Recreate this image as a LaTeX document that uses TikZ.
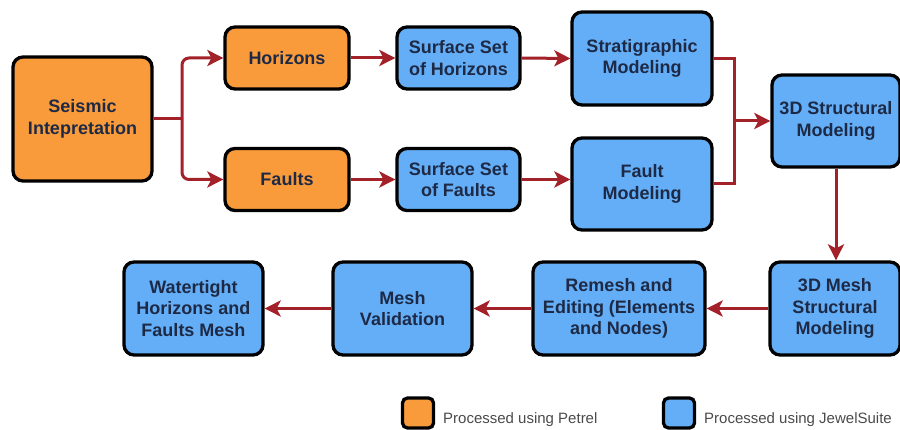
\documentclass[tikz,border=0pt]{standalone}
\usepackage{fontspec}
\setmainfont{Liberation Sans}
\usetikzlibrary{arrows.meta}
\definecolor{orfill}{HTML}{F99B3A}
\definecolor{blfill}{HTML}{63AEF7}
\definecolor{arr}{HTML}{A3222A}
\definecolor{txt}{HTML}{1E2A45}
\definecolor{legtxt}{HTML}{4A4A4A}
\tikzset{
 box/.style={draw=black, line width=3.3pt, rounded corners=10pt, font=\fontsize{18}{21.5}\selectfont\bfseries, text=txt, align=center, inner sep=0pt},
 obox/.style={box, fill=orfill},
 bbox/.style={box, fill=blfill},
 flow/.style={draw=arr, line width=3pt, -{Stealth[length=16pt,width=16pt,inset=4pt]}},
 link/.style={draw=arr, line width=3pt},
 legbox/.style={draw=black, line width=3.3pt, rounded corners=5pt, minimum width=31pt, minimum height=30pt, inner sep=0pt},
 legtext/.style={font=\fontsize{15}{17}\selectfont, text=legtxt, anchor=west, inner sep=0pt},
}
\begin{document}
\begin{tikzpicture}[x=1pt,y=-1pt]
\useasboundingbox (0,0) rectangle (900,430);
\node[obox, minimum width=139pt, minimum height=124pt] (seis) at (82.5,119) {Seismic\\Intepretation};
\node[obox, minimum width=124pt, minimum height=62pt] (horiz) at (287,58) {Horizons};
\node[obox, minimum width=124pt, minimum height=62pt] (faults) at (287,179.5) {Faults};
\node[bbox, minimum width=123pt, minimum height=62pt] (ssh) at (458.5,58) {Surface Set\\of Horizons};
\node[bbox, minimum width=123pt, minimum height=62pt] (ssf) at (458.5,179.5) {Surface Set\\of Faults};
\node[bbox, minimum width=140pt, minimum height=93pt] (strat) at (642,58.5) {Stratigraphic\\Modeling};
\node[bbox, minimum width=140pt, minimum height=92pt] (fmod) at (642,184) {Fault\\Modeling};
\node[bbox, minimum width=128pt, minimum height=92pt] (struct) at (836,121) {3D Structural\\Modeling};
\node[bbox, minimum width=130pt, minimum height=93pt] (mesh3d) at (835,308.5) {3D Mesh\\Structural\\Modeling};
\node[bbox, minimum width=172pt, minimum height=93pt] (remesh) at (619,308.5) {Remesh and\\Editing (Elements\\and Nodes)};
\node[bbox, minimum width=139pt, minimum height=93pt] (meshval) at (402.5,308.5) {Mesh\\Validation};
\node[bbox, minimum width=139pt, minimum height=93pt] (water) at (193.5,308.5) {Watertight\\Horizons and\\Faults Mesh};

\coordinate (j1) at (182,119);
\draw[link] (seis.east) -- (j1);
\draw[flow, rounded corners=7pt] (j1) |- (horiz.west);
\draw[flow, rounded corners=7pt] (j1) |- (faults.west);
\draw[flow] (horiz.east) -- (ssh.west);
\draw[flow] (faults.east) -- (ssf.west);
\draw[flow] (ssh.east) -- (strat.west);
\draw[flow] (ssf.east) -- (ssf.east -| fmod.west);

\coordinate (j2) at (734,121);
\draw[link] (strat.east) -| (j2);
\draw[link] (fmod.east) -| (j2);
\draw[flow] (j2) -- (struct.west);
\draw[flow] (struct.south) -- (struct.south |- mesh3d.north);
\draw[flow] (mesh3d.west) -- (remesh.east);
\draw[flow] (remesh.west) -- (meshval.east);
\draw[flow] (meshval.west) -- (water.east);

\node[legbox, fill=orfill] (leg1) at (418,413) {};
\node[legtext] (legt1) at (443,420) {Processed using Petrel};
\node[legbox, fill=blfill] (leg2) at (679,413) {};
\node[legtext] (legt2) at (704,420) {Processed using JewelSuite};
\end{tikzpicture}
\end{document}
